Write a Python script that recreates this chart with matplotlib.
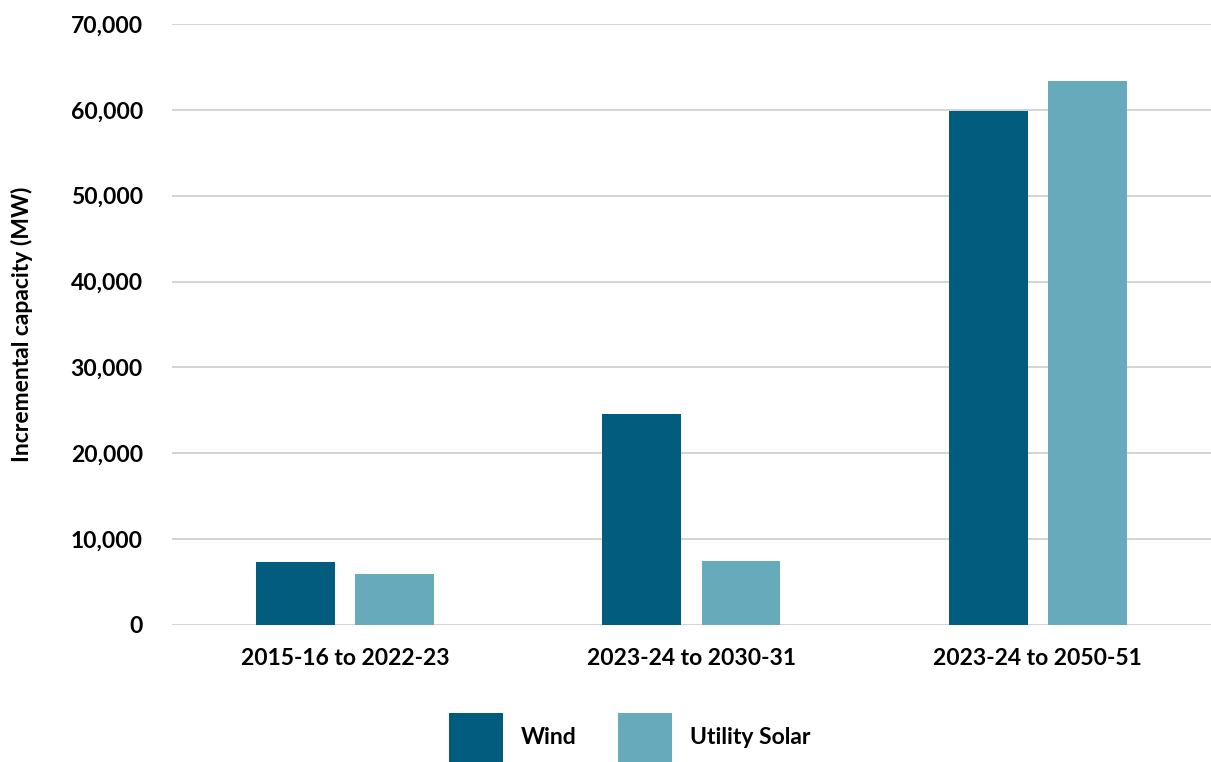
import matplotlib
matplotlib.use("Agg")
import matplotlib.pyplot as plt
import numpy as np
from matplotlib.ticker import FuncFormatter
from matplotlib.patches import Patch

categories = ["2015-16 to 2022-23", "2023-24 to 2030-31", "2023-24 to 2050-51"]
wind = [7300, 24600, 59900]
solar = [5900, 7400, 63400]
series_names = ["Wind", "Utility Solar"]
colors = ["#025C7D", "#66AABC"]

plt.rcParams['font.family'] = ['Lato', 'DejaVu Sans']

fig = plt.figure(figsize=(12.11, 7.62), dpi=100)
ax = fig.add_axes([0.142, 0.18, 0.858, 0.7885])

x = np.arange(len(categories))
w = 0.228
off = 0.143
ax.bar(x - off, wind, width=w, color=colors[0], zorder=3)
ax.bar(x + off, solar, width=w, color=colors[1], zorder=3)

ax.set_xlim(-0.5, 2.5)
ax.set_ylim(0, 70000)
ax.set_yticks(np.arange(0, 70001, 10000))
ax.yaxis.set_major_formatter(FuncFormatter(lambda v, p: f"{int(v):,}"))
ax.set_xticks(x)
ax.set_xticklabels(categories)
ax.grid(axis='y', color='#d0d0d0', linewidth=1.3, zorder=0)
for s in ax.spines.values():
    s.set_visible(False)
ax.tick_params(axis='both', length=0, labelsize=16.5)
ax.tick_params(axis='y', pad=21)
ax.tick_params(axis='x', pad=17)
for lab in ax.get_xticklabels() + ax.get_yticklabels():
    lab.set_fontweight('bold')
ax.set_ylabel("Incremental capacity (MW)", fontsize=16.5, fontweight='bold')
ax.yaxis.set_label_coords(-0.134, 0.5)

handles = [Patch(facecolor=c, edgecolor='none') for c in colors]
leg = fig.legend(handles, series_names, loc='center', bbox_to_anchor=(0.52, 0.032),
                 ncol=2, frameon=False, handlelength=2.35, handleheight=2.95,
                 handletextpad=0.8, columnspacing=1.8, borderaxespad=0,
                 prop={'weight': 'bold', 'size': 16.5})

fig.savefig("out.png", dpi=100)
